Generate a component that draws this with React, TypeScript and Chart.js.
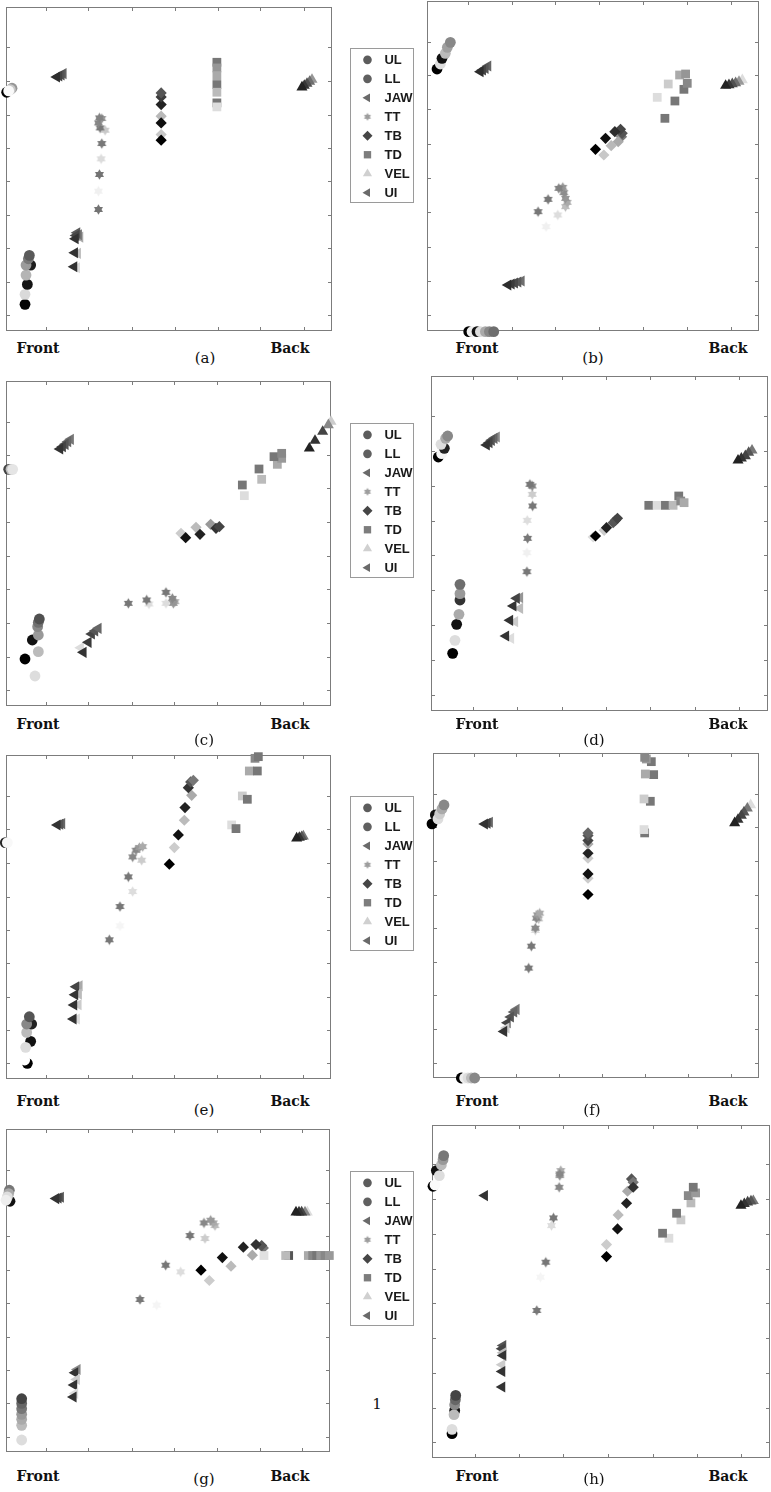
import React, { useEffect, useRef } from "react";
import { Chart, registerables } from "chart.js";
Chart.register(...registerables);

type Pt = [number, number, number]; // x, y (panel units, y grows downward), gray level 0-255

const SERIES_NAMES = ["UL", "LL", "JAW", "TT", "TB", "TD", "VEL", "UI"];
const LEGEND_GRAYS = [92, 96, 106, 158, 70, 125, 208, 106];

// ---------- panel (a) ----------
const aUL: Pt[] = [[20, 278, 0], [36, 266, 150], [31, 270, 200], [26, 274, 250]];
const aLL: Pt[] = [[75, 915, 5], [75, 885, 218], [82, 855, 20], [78, 827, 180], [92, 797, 30], [78, 797, 155], [85, 778, 120], [88, 768, 90]];
const aJAW: Pt[] = [[240, 713, 170], [236, 706, 120], [231, 700, 90], [228, 708, 70], [226, 718, 50], [233, 762, 190], [224, 760, 50], [230, 805, 220], [222, 802, 50]];
const aTT: Pt[] = [[295, 630, 115], [295, 575, 240], [298, 525, 115], [303, 478, 220], [305, 432, 120], [315, 392, 200], [300, 385, 120], [295, 370, 135], [305, 357, 150], [298, 355, 130]];
const aTB: Pt[] = [[483, 405, 200], [483, 422, 0], [483, 350, 185], [483, 370, 15], [483, 315, 35], [483, 292, 60], [483, 280, 85]];
const aTD: Pt[] = [[650, 188, 119], [650, 205, 150], [650, 228, 170], [650, 255, 119], [650, 278, 187], [650, 310, 119], [650, 322, 221]];
const aVEL: Pt[] = [[935, 240, 150], [928, 246, 110], [920, 252, 80], [912, 258, 55], [905, 263, 35]];
const aUI: Pt[] = [[190, 222, 100], [184, 226, 85], [177, 229, 68], [170, 232, 45]];
const aXTicks = [138, 265, 395, 523, 652, 780, 910];
const aYTicks = [142, 243, 345, 446, 546, 646, 747, 848, 948];

// ---------- panel (b) ----------
const bUL: Pt[] = [[35, 207, 0], [45, 192, 221], [50, 175, 17], [60, 160, 187], [66, 142, 160], [75, 127, 136]];
const bLL: Pt[] = [[130, 995, 0], [140, 995, 238], [155, 995, 17], [165, 995, 221], [180, 995, 170], [192, 995, 136], [205, 995, 110]];
const bJAW: Pt[] = [[288, 843, 110], [278, 846, 90], [268, 849, 75], [258, 852, 60], [248, 855, 45]];
const bTT: Pt[] = [[338, 635, 119], [368, 598, 119], [362, 680, 240], [397, 645, 221], [420, 620, 190], [425, 607, 170], [420, 595, 150], [415, 578, 140], [412, 562, 150], [400, 565, 130]];
const bTB: Pt[] = [[535, 465, 200], [510, 448, 0], [557, 437, 185], [540, 415, 15], [588, 410, 120], [578, 425, 170], [590, 400, 85], [585, 388, 70], [568, 395, 45]];
const bTD: Pt[] = [[695, 292, 221], [718, 355, 119], [728, 252, 204], [748, 303, 119], [775, 268, 119], [785, 250, 136], [762, 225, 170], [780, 222, 150]];
const bVEL: Pt[] = [[950, 240, 221], [940, 245, 153], [930, 249, 110], [920, 252, 80], [910, 255, 55], [900, 257, 35]];
const bUI: Pt[] = [[188, 198, 100], [180, 205, 85], [172, 210, 68], [165, 215, 45]];
const bXTicks = [128, 260, 390, 520, 652, 783, 915];
const bYTicks = [125, 226, 328, 432, 535, 637, 740, 842, 945];

// ---------- panel (c) ----------
const cUL: Pt[] = [[26, 293, 68], [33, 293, 187], [38, 293, 229]];
const cLL: Pt[] = [[105, 913, 221], [75, 862, 0], [115, 840, 187], [97, 805, 17], [115, 790, 153], [113, 765, 136], [115, 752, 110], [118, 742, 80]];
const cJAW: Pt[] = [[242, 828, 221], [250, 842, 51], [265, 812, 58], [275, 787, 68], [285, 778, 85], [295, 770, 102]];
const cTT: Pt[] = [[385, 695, 119], [447, 697, 221], [440, 685, 119], [498, 695, 221], [498, 662, 119], [525, 690, 170], [520, 695, 150], [517, 680, 136]];
const cTB: Pt[] = [[543, 485, 204], [557, 498, 17], [588, 467, 187], [600, 488, 34], [632, 458, 153], [648, 470, 51], [658, 465, 68]];
const cTD: Pt[] = [[733, 372, 221], [727, 340, 119], [785, 323, 187], [777, 292, 119], [832, 278, 170], [845, 260, 153], [822, 255, 119], [845, 245, 136]];
const cVEL: Pt[] = [[993, 150, 204], [985, 160, 136], [968, 180, 68], [945, 207, 51], [928, 230, 34]];
const cUI: Pt[] = [[212, 203, 119], [204, 210, 102], [196, 218, 85], [188, 225, 68], [180, 232, 51]];
const cXTicks = [138, 265, 395, 523, 652, 780, 910];
const cYTicks = [150, 250, 350, 452, 552, 652, 754, 855, 955];

// ---------- panel (d) ----------
const dUL: Pt[] = [[40, 268, 0], [50, 258, 245], [58, 242, 34], [48, 230, 221], [62, 212, 170], [68, 205, 136]];
const dLL: Pt[] = [[83, 857, 0], [90, 818, 221], [95, 770, 17], [102, 740, 170], [105, 697, 51], [105, 678, 153], [105, 650, 110]];
const dJAW: Pt[] = [[285, 690, 150], [275, 692, 68], [285, 722, 187], [265, 715, 51], [270, 762, 204], [255, 758, 51], [258, 812, 221], [243, 805, 51]];
const dTT: Pt[] = [[306, 612, 119], [306, 555, 240], [308, 512, 119], [307, 458, 221], [323, 415, 119], [322, 380, 204], [322, 355, 136], [315, 350, 119]];
const dTB: Pt[] = [[505, 508, 221], [512, 505, 0], [538, 488, 204], [545, 480, 34], [572, 458, 51], [565, 465, 85], [578, 452, 68]];
const dTD: Pt[] = [[672, 413, 119], [697, 413, 221], [722, 413, 119], [745, 413, 187], [762, 385, 119], [768, 400, 136], [778, 405, 170]];
const dVEL: Pt[] = [[982, 248, 119], [972, 255, 85], [962, 265, 68], [950, 272, 51], [940, 278, 34]];
const dUI: Pt[] = [[215, 208, 136], [208, 212, 102], [200, 218, 85], [193, 225, 68], [185, 232, 51]];
const dXTicks = [145, 275, 410, 543, 677, 810, 943];
const dYTicks = [145, 250, 355, 460, 562, 667, 772, 877, 982];

// ---------- panel (e) ----------
const eUL: Pt[] = [[16, 285, 34], [22, 285, 248]];
const eLL: Pt[] = [[82, 948, 0], [74, 938, 255], [92, 882, 17], [77, 900, 221], [80, 855, 187], [95, 830, 34], [80, 830, 136], [88, 808, 85]];
const eJAW: Pt[] = [[238, 715, 170], [228, 718, 68], [236, 740, 187], [225, 742, 51], [235, 772, 204], [222, 773, 51], [230, 815, 221], [220, 815, 51]];
const eTT: Pt[] = [[328, 577, 119], [360, 535, 245], [360, 477, 119], [398, 432, 221], [385, 388, 119], [425, 338, 204], [398, 328, 136], [408, 308, 136], [418, 300, 153], [428, 297, 170]];
const eTB: Pt[] = [[508, 350, 0], [523, 300, 204], [535, 262, 17], [553, 218, 187], [555, 180, 34], [575, 143, 170], [565, 120, 51], [572, 103, 85], [580, 98, 119]];
const eTD: Pt[] = [[695, 232, 221], [708, 243, 119], [727, 145, 204], [742, 155, 119], [748, 70, 170], [772, 70, 119], [765, 32, 136], [775, 27, 119]];
const eVEL: Pt[] = [[910, 266, 119], [905, 268, 85], [898, 270, 51], [890, 272, 34]];
const eUI: Pt[] = [[186, 228, 102], [180, 230, 85], [172, 232, 51]];
const eXTicks = [138, 265, 395, 523, 652, 780, 910];
const eYTicks = [145, 245, 345, 447, 547, 647, 748, 848, 948];

// ---------- panel (f) ----------
const fUL: Pt[] = [[22, 235, 0], [32, 208, 17], [40, 220, 221], [45, 205, 204], [52, 190, 170], [58, 178, 136]];
const fLL: Pt[] = [[110, 998, 0], [120, 998, 238], [130, 998, 221], [140, 998, 187], [150, 998, 136]];
const fJAW: Pt[] = [[275, 792, 119], [268, 800, 102], [258, 815, 85], [248, 832, 68], [245, 848, 204], [238, 858, 51]];
const fTT: Pt[] = [[312, 668, 119], [320, 602, 119], [332, 555, 221], [332, 548, 136], [342, 520, 187], [335, 518, 136], [338, 508, 153], [345, 503, 170]];
const fTB: Pt[] = [[490, 447, 0], [490, 398, 204], [490, 385, 17], [490, 338, 204], [490, 323, 34], [490, 295, 170], [490, 285, 68], [490, 270, 85], [490, 262, 102]];
const fTD: Pt[] = [[660, 262, 119], [658, 252, 221], [677, 167, 119], [658, 160, 204], [687, 87, 119], [662, 85, 170], [680, 48, 119], [665, 40, 153], [660, 35, 136]];
const fVEL: Pt[] = [[978, 178, 221], [968, 188, 119], [958, 200, 85], [950, 210, 68], [940, 222, 51], [930, 232, 34]];
const fUI: Pt[] = [[195, 230, 102], [188, 233, 68], [180, 235, 51]];
const fXTicks = [147, 275, 403, 532, 660, 790, 918];
const fYTicks = [145, 245, 347, 447, 547, 650, 750, 852, 952];

// ---------- panel (g) ----------
const gUL: Pt[] = [[30, 245, 17], [28, 212, 119], [26, 222, 170], [22, 232, 221], [18, 242, 238]];
const gLL: Pt[] = [[65, 962, 221], [65, 918, 187], [65, 900, 170], [65, 885, 153], [65, 868, 119], [65, 852, 102], [65, 838, 68]];
const gJAW: Pt[] = [[232, 750, 136], [225, 760, 51], [230, 780, 204], [222, 797, 51], [225, 822, 221], [220, 833, 51]];
const gTT: Pt[] = [[420, 540, 119], [470, 557, 245], [497, 437, 119], [542, 457, 221], [570, 348, 119], [615, 357, 204], [645, 318, 187], [640, 310, 170], [632, 302, 153], [612, 310, 136]];
const gTB: Pt[] = [[603, 452, 0], [628, 483, 204], [667, 414, 17], [693, 440, 187], [730, 383, 34], [757, 407, 170], [790, 385, 119], [785, 378, 85], [768, 375, 51]];
const gTD: Pt[] = [[792, 408, 225], [866, 408, 85], [857, 408, 187], [925, 408, 170], [938, 408, 136], [950, 408, 119], [962, 408, 153], [975, 408, 136], [988, 408, 153]];
const gVEL: Pt[] = [[922, 278, 221], [915, 278, 136], [905, 278, 68], [897, 278, 51], [888, 278, 34]];
const gUI: Pt[] = [[182, 233, 85], [175, 235, 68], [168, 237, 51]];
const gXTicks = [137, 265, 395, 523, 652, 780, 907];
const gYTicks = [150, 250, 350, 450, 550, 652, 752, 852, 952];

// ---------- panel (h) ----------
const hUL: Pt[] = [[25, 212, 0], [31, 208, 250], [35, 165, 17], [44, 180, 221], [50, 148, 187], [55, 132, 153], [57, 120, 119]];
const hLL: Pt[] = [[82, 955, 0], [82, 942, 221], [90, 885, 17], [88, 898, 187], [90, 868, 136], [92, 853, 102], [93, 840, 68]];
const hJAW: Pt[] = [[235, 690, 85], [232, 700, 68], [235, 712, 187], [235, 720, 51], [232, 748, 204], [232, 768, 51], [232, 815, 51]];
const hTT: Pt[] = [[336, 585, 119], [347, 485, 245], [363, 440, 119], [380, 330, 221], [386, 307, 119], [403, 215, 136], [405, 180, 153], [408, 165, 170], [405, 175, 136]];
const hTB: Pt[] = [[545, 387, 204], [545, 423, 0], [580, 298, 187], [578, 340, 17], [608, 227, 170], [605, 263, 34], [620, 190, 85], [625, 200, 119], [625, 215, 51]];
const hTD: Pt[] = [[732, 368, 221], [713, 353, 119], [768, 313, 204], [755, 293, 119], [798, 262, 187], [790, 240, 136], [812, 232, 153], [805, 215, 119]];
const hVEL: Pt[] = [[985, 256, 119], [978, 257, 85], [968, 260, 68], [958, 265, 51], [948, 270, 34]];
const hUI: Pt[] = [[180, 240, 51]];
const hXTicks = [150, 283, 415, 548, 683, 815, 948];
const hYTicks = [145, 250, 355, 460, 562, 667, 772, 877, 980];

const PANELS = [
  { series: [aUL, aLL, aJAW, aTT, aTB, aTD, aVEL, aUI], xTicks: aXTicks, yTicks: aYTicks },
  { series: [bUL, bLL, bJAW, bTT, bTB, bTD, bVEL, bUI], xTicks: bXTicks, yTicks: bYTicks },
  { series: [cUL, cLL, cJAW, cTT, cTB, cTD, cVEL, cUI], xTicks: cXTicks, yTicks: cYTicks },
  { series: [dUL, dLL, dJAW, dTT, dTB, dTD, dVEL, dUI], xTicks: dXTicks, yTicks: dYTicks },
  { series: [eUL, eLL, eJAW, eTT, eTB, eTD, eVEL, eUI], xTicks: eXTicks, yTicks: eYTicks },
  { series: [fUL, fLL, fJAW, fTT, fTB, fTD, fVEL, fUI], xTicks: fXTicks, yTicks: fYTicks },
  { series: [gUL, gLL, gJAW, gTT, gTB, gTD, gVEL, gUI], xTicks: gXTicks, yTicks: gYTicks },
  { series: [hUL, hLL, hJAW, hTT, hTB, hTD, hVEL, hUI], xTicks: hXTicks, yTicks: hYTicks },
];

// ---------- layout (page px) / axis ranges (panel units) ----------
const PANEL_LAYOUT = [
  { ox: 0, oy: 0, x0: 18, x1: 995, y0: 22, y1: 995 },
  { ox: 425, oy: 0, x0: 5, x1: 1000, y0: 3, y1: 993 },
  { ox: 0, oy: 372, x0: 18, x1: 993, y0: 28, y1: 1003 },
  { ox: 425, oy: 368, x0: 18, x1: 1030, y0: 25, y1: 1030 },
  { ox: 0, oy: 748, x0: 18, x1: 993, y0: 22, y1: 995 },
  { ox: 425, oy: 746, x0: 25, x1: 1003, y0: 22, y1: 998 },
  { ox: 0, oy: 1120, x0: 18, x1: 990, y0: 28, y1: 998 },
  { ox: 425, oy: 1116, x0: 22, x1: 1035, y0: 28, y1: 1028 },
];
const LEGEND_TOPS = [43, 418, 791, 1166];
const LEGEND_LEFT = 345;

const AXIS_LABELS = [
  { t: "Front", x: 38, y: 348 }, { t: "Back", x: 290, y: 348 },
  { t: "Front", x: 477, y: 348 }, { t: "Back", x: 728, y: 348 },
  { t: "Front", x: 38, y: 724 }, { t: "Back", x: 290, y: 724 },
  { t: "Front", x: 477, y: 724 }, { t: "Back", x: 728, y: 724 },
  { t: "Front", x: 38, y: 1101 }, { t: "Back", x: 290, y: 1101 },
  { t: "Front", x: 477, y: 1101 }, { t: "Back", x: 728, y: 1101 },
  { t: "Front", x: 38, y: 1476 }, { t: "Back", x: 290, y: 1476 },
  { t: "Front", x: 477, y: 1476 }, { t: "Back", x: 728, y: 1476 },
];
const SUB_LABELS = [
  { t: "(a)", x: 205, y: 358 }, { t: "(b)", x: 593, y: 358 },
  { t: "(c)", x: 204, y: 740 }, { t: "(d)", x: 594, y: 740 },
  { t: "(e)", x: 204, y: 1110 }, { t: "(f)", x: 592, y: 1110 },
  { t: "(g)", x: 204, y: 1479 }, { t: "(h)", x: 594, y: 1479 },
  { t: "1", x: 377, y: 1404 },
];

// marker styles per series
const SHAPES = [
  { style: "circle", r: 5.4, rot: 0, lr: 4.3 },
  { style: "circle", r: 5.4, rot: 0, lr: 4.3 },
  { style: "triangle", r: 6.4, rot: -90, lr: 5.0 },
  { style: "star", r: 5.2, rot: 0, lr: 4.0 },
  { style: "rectRot", r: 5.6, rot: 0, lr: 5.0 },
  { style: "rect", r: 6.2, rot: 0, lr: 5.2 },
  { style: "triangle", r: 6.4, rot: 0, lr: 5.3 },
  { style: "triangle", r: 6.4, rot: -90, lr: 5.0 },
];

const PAD = 9;
const gray = (g: number) => `rgb(${g},${g},${g})`;

const starCache: Record<string, HTMLCanvasElement> = {};
function starImage(g: number, R: number): HTMLCanvasElement {
  const key = g + "_" + R;
  if (starCache[key]) return starCache[key];
  const S = Math.ceil(R * 2 + 2);
  const c = document.createElement("canvas");
  c.width = S;
  c.height = S;
  const ctx = c.getContext("2d")!;
  ctx.fillStyle = gray(g);
  const cx = S / 2, cy = S / 2;
  for (const start of [-90, 90]) {
    ctx.beginPath();
    for (let k = 0; k < 3; k++) {
      const a = ((start + k * 120) * Math.PI) / 180;
      const px = cx + R * Math.cos(a), py = cy + R * Math.sin(a);
      if (k === 0) ctx.moveTo(px, py); else ctx.lineTo(px, py);
    }
    ctx.closePath();
    ctx.fill();
  }
  starCache[key] = c;
  return c;
}

const boxPlugin = {
  id: "box",
  beforeDatasetsDraw(chart: any, _a: any, opts: any) {
    const { ctx, chartArea: a, scales } = chart;
    const L = Math.round(a.left) + 0.5, R = Math.round(a.right) - 0.5;
    const T = Math.round(a.top) + 0.5, B = Math.round(a.bottom) - 0.5;
    ctx.save();
    ctx.strokeStyle = "#7c7c7c";
    ctx.lineWidth = 1;
    ctx.strokeRect(L, T, R - L, B - T);
    const tl = 3.5;
    ctx.beginPath();
    for (const v of opts.xTicks as number[]) {
      const px = Math.round(scales.x.getPixelForValue(v)) + 0.5;
      ctx.moveTo(px, B); ctx.lineTo(px, B - tl);
      ctx.moveTo(px, T); ctx.lineTo(px, T + tl);
    }
    for (const v of opts.yTicks as number[]) {
      const py = Math.round(scales.y.getPixelForValue(v)) + 0.5;
      ctx.moveTo(L, py); ctx.lineTo(L + tl, py);
      ctx.moveTo(R, py); ctx.lineTo(R - tl, py);
    }
    ctx.stroke();
    ctx.restore();
  },
};

function Panel({ idx }: { idx: number }) {
  const ref = useRef<HTMLCanvasElement>(null);
  const lay = PANEL_LAYOUT[idx];
  const bw = Math.round((lay.x1 - lay.x0) / 3);
  const bh = Math.round((lay.y1 - lay.y0) / 3);
  const left = Math.round(lay.ox + lay.x0 / 3) - PAD;
  const top = Math.round(lay.oy + lay.y0 / 3) - PAD;
  const W = bw + 2 * PAD, H = bh + 2 * PAD;
  useEffect(() => {
    const p = PANELS[idx];
    const datasets = p.series.map((pts, si) => {
      const sh = SHAPES[si];
      const cols = pts.map((q) => gray(q[2]));
      return {
        label: SERIES_NAMES[si],
        data: pts.map((q) => ({ x: q[0], y: q[1] })),
        pointBackgroundColor: cols,
        pointBorderColor: cols,
        pointBorderWidth: 0,
        pointRadius: sh.r,
        pointRotation: sh.rot,
        pointStyle:
          sh.style === "star"
            ? (c: any) => starImage(pts[c.dataIndex] ? pts[c.dataIndex][2] : 128, sh.r)
            : sh.style,
        showLine: false,
        clip: false as any,
        order: 8 - si,
      };
    });
    const chart = new Chart(ref.current!, {
      type: "scatter",
      data: { datasets: datasets as any },
      options: {
        animation: false,
        responsive: false,
        devicePixelRatio: 1,
        events: [],
        layout: { padding: PAD },
        plugins: {
          legend: { display: false },
          tooltip: { enabled: false },
          box: { xTicks: p.xTicks, yTicks: p.yTicks },
        } as any,
        scales: {
          x: { type: "linear", min: lay.x0, max: lay.x1, display: false },
          y: { type: "linear", min: lay.y0, max: lay.y1, reverse: true, display: false },
        },
      },
      plugins: [boxPlugin],
    });
    return () => chart.destroy();
  }, [idx]);
  return (
    <canvas
      ref={ref}
      width={W}
      height={H}
      style={{ position: "absolute", left, top, width: W, height: H }}
    />
  );
}

const legendPlugin = {
  id: "legendText",
  beforeDatasetsDraw(chart: any) {
    const { ctx, chartArea: a } = chart;
    ctx.save();
    ctx.strokeStyle = "#9a9a9a";
    ctx.lineWidth = 1;
    ctx.strokeRect(Math.round(a.left) + 0.5, Math.round(a.top) + 0.5, Math.round(a.right - a.left) - 1, Math.round(a.bottom - a.top) - 1);
    ctx.restore();
  },
  afterDatasetsDraw(chart: any) {
    const { ctx, scales } = chart;
    ctx.save();
    ctx.fillStyle = "#1a1a1a";
    ctx.font = 'bold 13px "Liberation Sans", Arial, sans-serif';
    ctx.textBaseline = "middle";
    SERIES_NAMES.forEach((n, i) => {
      ctx.fillText(n, scales.x.getPixelForValue(0) + 17, scales.y.getPixelForValue(i) + 0.5);
    });
    ctx.restore();
  },
};

function Legend({ top }: { top: number }) {
  const ref = useRef<HTMLCanvasElement>(null);
  const W = 75, H = 166;
  useEffect(() => {
    const datasets = SERIES_NAMES.map((n, si) => {
      const sh = SHAPES[si];
      const col = gray(LEGEND_GRAYS[si]);
      return {
        label: n,
        data: [{ x: 0, y: si }],
        pointBackgroundColor: col,
        pointBorderColor: col,
        pointBorderWidth: 0,
        pointRadius: sh.lr,
        pointRotation: sh.rot,
        pointStyle: sh.style === "star" ? starImage(LEGEND_GRAYS[si], sh.lr) : sh.style,
        showLine: false,
        clip: false as any,
      };
    });
    const chart = new Chart(ref.current!, {
      type: "scatter",
      data: { datasets: datasets as any },
      options: {
        animation: false,
        responsive: false,
        devicePixelRatio: 1,
        events: [],
        layout: { padding: 0 },
        plugins: { legend: { display: false }, tooltip: { enabled: false } },
        scales: {
          x: { type: "linear", min: -1, max: 2.75, display: false },
          y: { type: "linear", min: -0.61, max: 7.58, reverse: true, display: false },
        },
      },
      plugins: [legendPlugin],
    });
    return () => chart.destroy();
  }, []);
  return (
    <canvas
      ref={ref}
      width={W}
      height={H}
      style={{ position: "absolute", left: LEGEND_LEFT, top, width: W, height: H }}
    />
  );
}

const labelStyle = (bold: boolean): React.CSSProperties => ({
  position: "absolute",
  transform: "translate(-50%, -50%)",
  fontFamily: '"DejaVu Serif", "Liberation Serif", serif',
  fontSize: bold ? 14 : 15,
  fontWeight: bold ? 700 : 400,
  lineHeight: 1,
  color: "#111",
  whiteSpace: "nowrap",
});

export default function App() {
  return (
    <div
      style={{
        position: "absolute",
        left: 0,
        top: 0,
        width: 771,
        height: 1492,
        overflow: "hidden",
        background: "#fff",
      }}
    >
      {PANEL_LAYOUT.map((_, i) => (
        <Panel key={i} idx={i} />
      ))}
      {LEGEND_TOPS.map((t, i) => (
        <Legend key={"l" + i} top={t} />
      ))}
      {AXIS_LABELS.map((l, i) => (
        <span key={"a" + i} style={{ ...labelStyle(true), left: l.x, top: l.y }}>
          {l.t}
        </span>
      ))}
      {SUB_LABELS.map((l, i) => (
        <span key={"s" + i} style={{ ...labelStyle(false), left: l.x, top: l.y }}>
          {l.t}
        </span>
      ))}
    </div>
  );
}
